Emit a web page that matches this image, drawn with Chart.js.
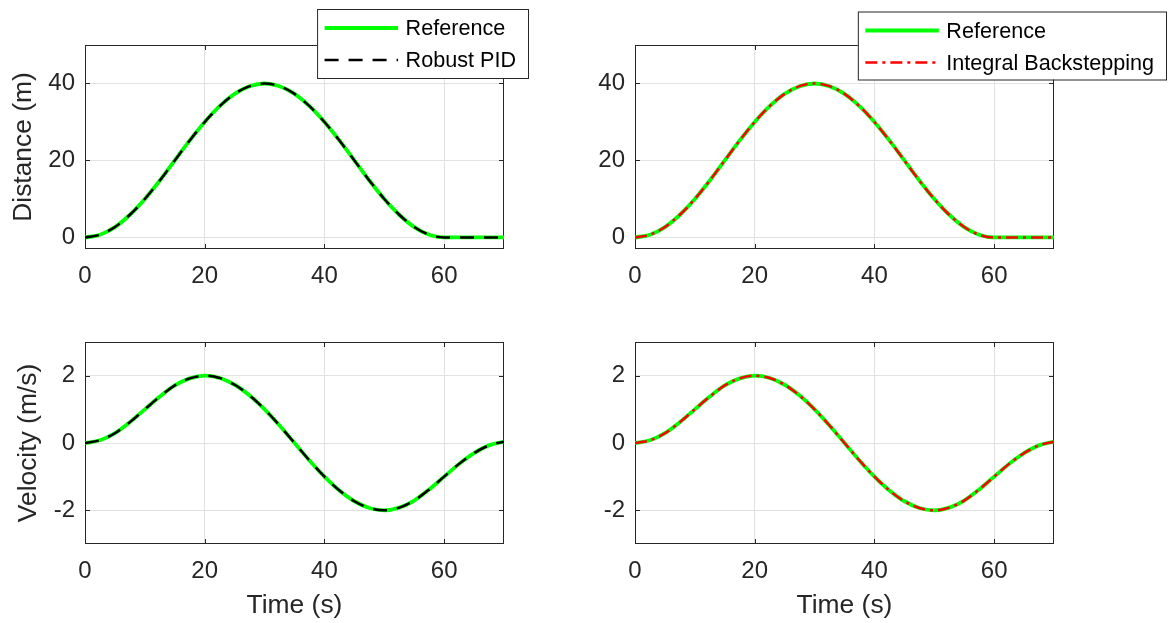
<!DOCTYPE html>
<html>
<head>
<meta charset="utf-8">
<script src="https://cdn.jsdelivr.net/npm/chart.js@4.4.1/dist/chart.umd.min.js"></script>
<style>
  html, body { margin: 0; padding: 0; background: #fff; }
  #wrap { position: relative; width: 1168px; height: 623px; overflow: hidden; }
  canvas { position: absolute; }
</style>
</head>
<body>
<div id="wrap">
  <canvas id="distPid" width="560" height="300" style="left:0;top:0"></canvas>
  <canvas id="distIbs" width="608" height="300" style="left:560px;top:0"></canvas>
  <canvas id="velPid" width="560" height="323" style="left:0;top:300px"></canvas>
  <canvas id="velIbs" width="608" height="323" style="left:560px;top:300px"></canvas>
</div>
<script>
// values, every 2.5 s
const time = [0, 2.5, 5, 7.5, 10, 12.5, 15, 17.5, 20, 22.5, 25, 27.5, 30, 32.5, 35,
  37.5, 40, 42.5, 45, 47.5, 50, 52.5, 55, 57.5, 60, 62.5, 65, 67.5, 70];

const refDist = [0, 0.7, 2.7, 5.9, 10, 14.8, 20, 25.2, 30, 34.1, 37.3, 39.3, 40,
  39.3, 37.3, 34.1, 30, 25.2, 20, 14.8, 10, 5.9, 2.7, 0.7, 0, 0, 0, 0, 0];
const refVel = [0, 0.08, 0.29, 0.62, 1, 1.38, 1.71, 1.92, 2, 1.93, 1.73, 1.41, 1,
  0.52, 0, -0.52, -1, -1.41, -1.73, -1.93, -2, -1.92, -1.71, -1.38, -1, -0.62, -0.3, -0.07, 0.04];

// both controllers sit right on top of the reference, no visible gap
const pidDist = refDist.slice();
const pidVel = refVel.slice();
const ibsDist = refDist.slice();
const ibsVel = refVel.slice();

const xTicks = [0, 20, 40, 60];
const distTicks = [0, 20, 40];
const velTicks = [-2, 0, 2];

const FONT = '"Liberation Sans", Arial, Helvetica, sans-serif';
const AX = '#262626';

const pts = ys => time.map((t, i) => ({x: t, y: ys[i]}));

// axes box + inward ticks on all four sides, matlab style
const frame = {
  id: 'frame',
  beforeDatasetsDraw(chart) {
    const {ctx, chartArea: a, scales: {x, y}} = chart;
    ctx.save();
    ctx.strokeStyle = AX;
    ctx.lineWidth = 1;
    ctx.beginPath();
    x.ticks.forEach(t => {
      const p = Math.round(x.getPixelForValue(t.value)) + 0.5;
      ctx.moveTo(p, a.bottom); ctx.lineTo(p, a.bottom - 5);
      ctx.moveTo(p, a.top); ctx.lineTo(p, a.top + 5);
    });
    y.ticks.forEach(t => {
      const p = Math.round(y.getPixelForValue(t.value)) + 0.5;
      ctx.moveTo(a.left, p); ctx.lineTo(a.left + 5, p);
      ctx.moveTo(a.right, p); ctx.lineTo(a.right - 5, p);
    });
    ctx.stroke();
    ctx.strokeRect(a.left + 0.5, a.top + 0.5, a.right - a.left - 1, a.bottom - a.top - 1);
    ctx.restore();
  }
};

const boxLegend = {
  id: 'boxLegend',
  afterDraw(chart, args, opts) {
    if (!opts.show) return;
    const {ctx} = chart;
    const sets = chart.data.datasets;
    ctx.save();
    ctx.font = '21.6px ' + FONT;
    const tw = Math.max(...sets.map(d => ctx.measureText(d.label).width));
    const w = 88.5 + tw + 12, h = opts.height;
    const x0 = opts.right - w, y0 = opts.top;
    ctx.fillStyle = '#fff';
    ctx.fillRect(x0, y0, w, h);
    ctx.strokeStyle = AX;
    ctx.lineWidth = 1;
    ctx.strokeRect(x0 + 0.5, y0 + 0.5, w, h);
    sets.forEach((d, i) => {
      const ry = y0 + 19 + i * 32;
      ctx.strokeStyle = d.borderColor;
      ctx.lineWidth = d.borderWidth;
      ctx.setLineDash(d.borderDash || []);
      ctx.beginPath();
      ctx.moveTo(x0 + 7.5, ry);
      ctx.lineTo(x0 + 81, ry);
      ctx.stroke();
      ctx.setLineDash([]);
      ctx.fillStyle = '#000';
      ctx.textBaseline = 'middle';
      ctx.fillText(d.label, x0 + 88.5, ry + 1.5);
    });
    ctx.restore();
  }
};

function makeChart(id, cfg) {
  const bottomRow = cfg.xTitle;
  return new Chart(document.getElementById(id), {
    type: 'line',
    data: {
      datasets: [{
        label: 'Reference',
        data: pts(cfg.ref),
        borderColor: '#00ff00',
        borderWidth: 3.8,
        order: 2
      }, {
        label: cfg.name,
        data: pts(cfg.track),
        borderColor: cfg.color,
        borderWidth: 2.5,
        borderDash: cfg.dash,
        order: 1
      }]
    },
    options: {
      responsive: false,
      animation: false,
      devicePixelRatio: 1,
      elements: {
        point: {radius: 0},
        line: {cubicInterpolationMode: 'monotone', fill: false}
      },
      layout: {padding: {left: 0, top: cfg.top, right: cfg.right, bottom: 0}},
      plugins: {
        legend: {display: false},
        tooltip: {enabled: false},
        boxLegend: cfg.legend || {show: false}
      },
      scales: {
        x: {
          type: 'linear',
          min: 0, max: 70,
          afterBuildTicks: s => { s.ticks = xTicks.map(v => ({value: v})); },
          afterFit: s => { s.height = cfg.xh; },
          grid: {color: '#e2e2e2', drawTicks: false},
          border: {display: false},
          ticks: {color: AX, padding: 13, maxRotation: 0, autoSkip: false,
            font: {family: FONT, size: 24}},
          title: {display: !!bottomRow, text: cfg.xTitle || '', color: AX,
            font: {family: FONT, size: 26.4}, padding: {top: 0, bottom: 1}}
        },
        y: {
          min: cfg.ymin, max: cfg.ymax,
          afterBuildTicks: s => { s.ticks = cfg.yTicks.map(v => ({value: v})); },
          afterFit: s => { s.width = cfg.yw; },
          grid: {color: '#e2e2e2', drawTicks: false},
          border: {display: false},
          ticks: {color: AX, padding: 10, font: {family: FONT, size: 24}},
          title: {display: !!cfg.yTitle, text: cfg.yTitle || '', color: AX,
            font: {family: FONT, size: 26.4}, padding: {top: cfg.yTitlePad || 0, bottom: 0}}
        }
      }
    },
    plugins: [frame, boxLegend]
  });
}

makeChart('distPid', {
  ref: refDist, track: pidDist, name: 'Robust PID', color: '#000000', dash: [14, 10],
  ymin: -3, ymax: 50, yTicks: distTicks, yTitle: 'Distance (m)', yTitlePad: 7.5,
  top: 45, right: 56, yw: 85, xh: 51,
  legend: {show: true, right: 528, top: 9, height: 69}
});
makeChart('distIbs', {
  ref: refDist, track: ibsDist, name: 'Integral Backstepping', color: '#ff0000', dash: [12, 5, 3, 5],
  ymin: -3, ymax: 50, yTicks: distTicks,
  top: 45, right: 114, yw: 75, xh: 51,
  legend: {show: true, right: 606, top: 11.5, height: 68}
});
makeChart('velPid', {
  ref: refVel, track: pidVel, name: 'Robust PID', color: '#000000', dash: [14, 10],
  ymin: -3, ymax: 3, yTicks: velTicks, yTitle: 'Velocity (m/s)', yTitlePad: 13,
  xTitle: 'Time (s)', top: 42, right: 56, yw: 85, xh: 79
});
makeChart('velIbs', {
  ref: refVel, track: ibsVel, name: 'Integral Backstepping', color: '#ff0000', dash: [12, 5, 3, 5],
  ymin: -3, ymax: 3, yTicks: velTicks,
  xTitle: 'Time (s)', top: 42, right: 114, yw: 75, xh: 79
});
</script>
</body>
</html>
